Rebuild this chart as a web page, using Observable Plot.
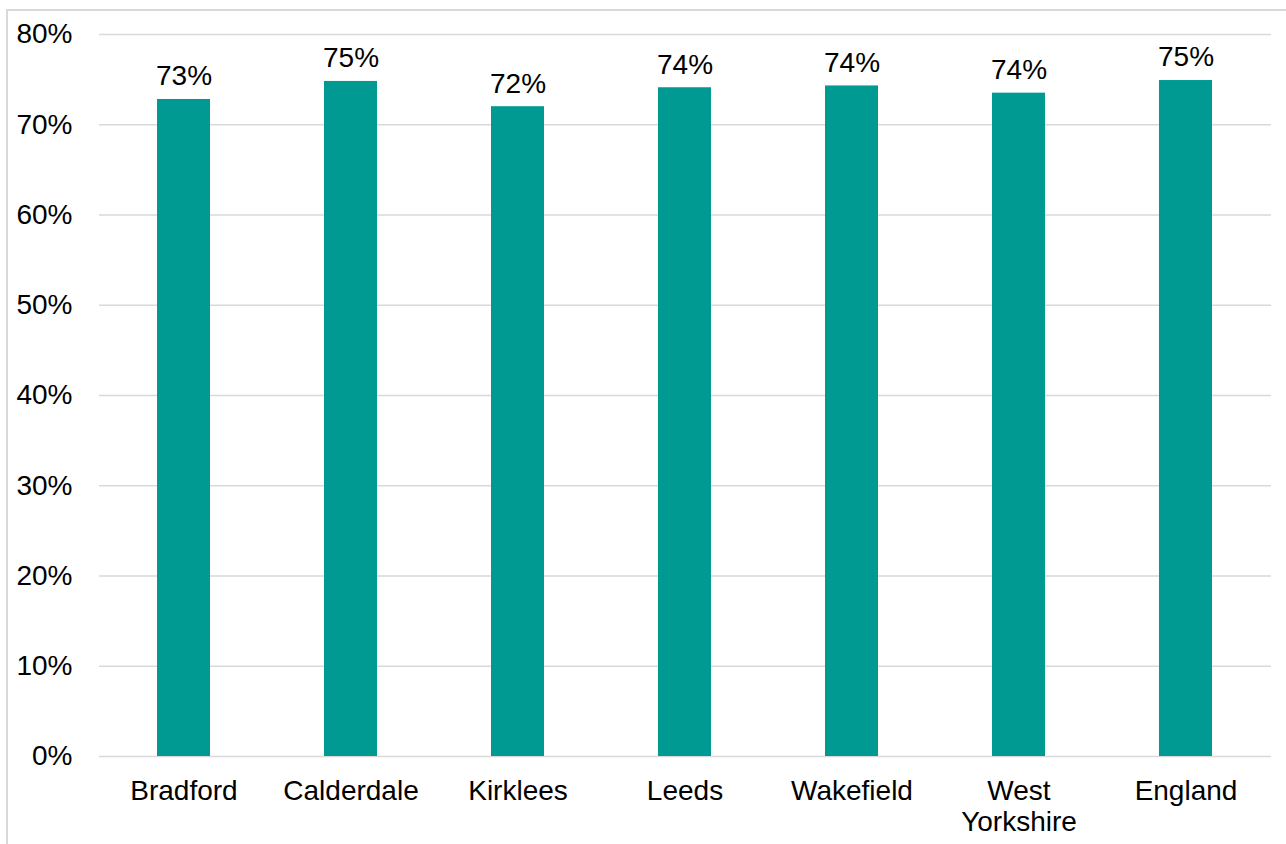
<!DOCTYPE html>
<html>
<head>
<meta charset="utf-8">
<script src="https://cdn.jsdelivr.net/npm/d3@7"></script>
<script src="https://cdn.jsdelivr.net/npm/@observablehq/plot@0.6"></script>
<style>
  html, body { margin: 0; padding: 0; background: #fff; }
  #wrap { position: relative; width: 1286px; height: 844px; overflow: hidden; }
  #frame { position: absolute; left: 6px; top: 9px; width: 1300px; height: 900px;
           border-left: 2px solid #d9d9d9; border-top: 2px solid #d9d9d9; box-sizing: border-box; }
  #chart { position: absolute; left: 0; top: 0; }
  svg { font-family: "Liberation Sans", Arial, sans-serif; }
</style>
</head>
<body>
<div id="wrap"><div id="frame"></div><div id="chart"></div></div>
<script>
const categories = ["Bradford", "Calderdale", "Kirklees", "Leeds", "Wakefield", "West Yorkshire", "England"];
const axisLabels = ["Bradford", "Calderdale", "Kirklees", "Leeds", "Wakefield", "West\nYorkshire", "England"];
const values = [0.728, 0.748, 0.720, 0.741, 0.743, 0.735, 0.749];
const labels = ["73%", "75%", "72%", "74%", "74%", "74%", "75%"];
const yTicks = [0, 0.1, 0.2, 0.3, 0.4, 0.5, 0.6, 0.7, 0.8];

const data = categories.map((c, i) => ({category: c, value: values[i], label: labels[i]}));
const labelMap = new Map(categories.map((c, i) => [c, axisLabels[i]]));

const chart = Plot.plot({
  width: 1286,
  height: 844,
  marginLeft: 99,
  marginRight: 15,
  marginTop: 34,
  marginBottom: 88,
  style: {fontFamily: "'Liberation Sans', Arial, sans-serif", fontSize: "28px", color: "#000", background: "transparent"},
  x: {domain: categories, paddingInner: 0.68, paddingOuter: 0.34, label: null},
  y: {domain: [0, 0.8], label: null},
  marks: [
    Plot.gridY(yTicks, {stroke: "#d9d9d9", strokeOpacity: 1, strokeWidth: 1.5}),
    Plot.barY(data, {x: "category", y: "value", fill: "#009a93"}),
    Plot.text(data, {x: "category", y: "value", text: "label", dy: -23, fontSize: 28, fill: "#000"}),
    Plot.axisY(yTicks, {tickFormat: d => Math.round(d * 100) + "%", tickSize: 0, tickPadding: 27, fontSize: 28, fill: "#000"}),
    Plot.axisX({tickSize: 0, tickPadding: 21, fontSize: 28, fill: "#000", lineHeight: 1.12, tickFormat: d => labelMap.get(d)})
  ]
});
document.getElementById("chart").appendChild(chart);
</script>
</body>
</html>
